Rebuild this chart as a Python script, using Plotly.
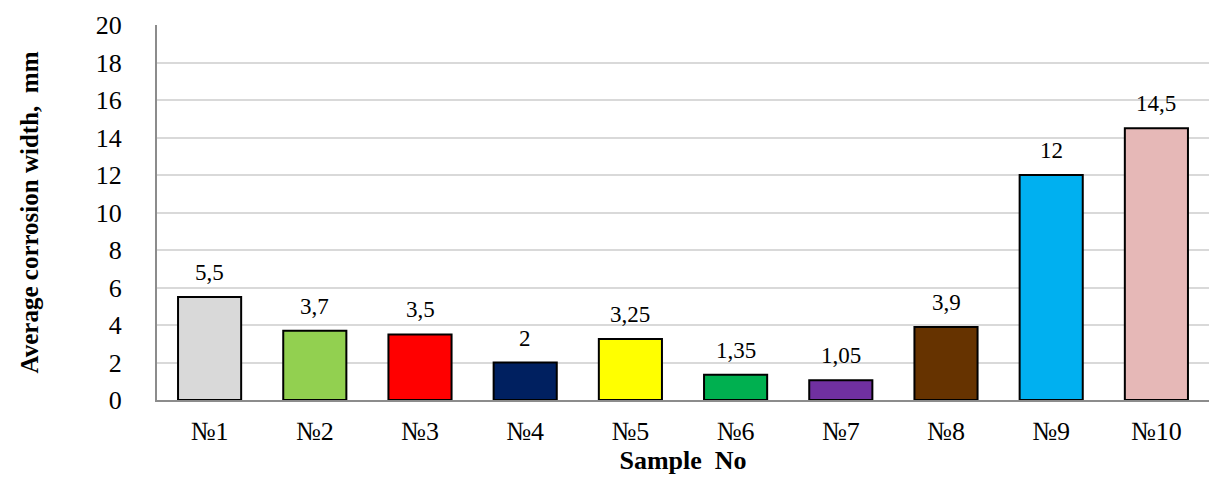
import plotly.graph_objects as go

samples = ["№1", "№2", "№3", "№4", "№5", "№6", "№7", "№8", "№9", "№10"]
widths = [5.5, 3.7, 3.5, 2, 3.25, 1.35, 1.05, 3.9, 12, 14.5]
labels = ["5,5", "3,7", "3,5", "2", "3,25", "1,35", "1,05", "3,9", "12", "14,5"]
colors = ["#D9D9D9", "#92D050", "#FF0000", "#002060", "#FFFF00",
          "#00B050", "#7030A0", "#663300", "#00B0F0", "#E6B8B7"]
y_ticks = list(range(0, 21, 2))

serif = "Liberation Serif, Times New Roman, serif"

fig = go.Figure(
    go.Bar(
        x=samples,
        y=widths,
        cliponaxis=False,
        marker=dict(color=colors, line=dict(color="#000000", width=2)),
        width=0.6,
    )
)

# value labels sitting a little above each bar
for s, v, t in zip(samples, widths, labels):
    fig.add_annotation(
        x=s, y=v, text=t, showarrow=False,
        yanchor="bottom", yshift=10,
        font=dict(family=serif, size=23, color="#000000"),
    )

fig.update_layout(
    width=1217,
    height=481,
    margin=dict(l=157, r=8, t=25, b=81),
    plot_bgcolor="#FFFFFF",
    paper_bgcolor="#FFFFFF",
    showlegend=False,
    font=dict(family=serif, color="#000000"),
    xaxis=dict(
        showline=True,
        linecolor="#8C8C8C",
        linewidth=2,
        tickfont=dict(family=serif, size=26),
        ticklabelstandoff=7,
        title=dict(text="<b>Sample\u00a0\u00a0No</b>", font=dict(family=serif, size=26), standoff=6),
    ),
    yaxis=dict(
        range=[0, 20],
        tickvals=y_ticks,
        showline=True,
        linecolor="#8C8C8C",
        linewidth=2,
        showgrid=True,
        gridcolor="#D9D9D9",
        gridwidth=1.5,
        zeroline=False,
        tickfont=dict(family=serif, size=26),
        ticklabelstandoff=28,
        title=dict(text="<b>Average corrosion width,\u00a0\u00a0mm</b>", font=dict(family=serif, size=25), standoff=50),
    ),
)

fig.write_html("out.html")
